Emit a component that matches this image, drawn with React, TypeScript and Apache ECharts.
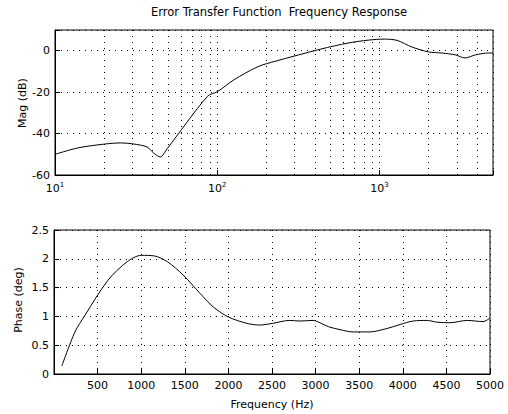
import React, { useEffect, useRef } from "react";
import * as echarts from "echarts";

const titleText = "Error Transfer Function  Frequency Response";
const magAxisName = "Mag (dB)";
const phaseAxisName = "Phase (deg)";
const magFreq = [10, 13.7, 18.2, 25.3, 30.4, 37, 40.5, 44.5, 49, 87, 100, 127, 178, 230, 435, 640, 850, 1070, 1280, 1580, 2010, 2420, 2930, 3360, 3900, 4700, 5000];
const magDb = [-50, -47, -45.5, -44.5, -45, -46.5, -49.4, -51.3, -47.4, -22, -19.8, -14, -7.7, -5, 0.8, 3.7, 5.1, 5.6, 5, 1.8, -0.6, -1.1, -2, -3.5, -2, -1.1, -1.1];
const phaseFreq = [90, 240, 355, 620, 840, 1000, 1150, 1300, 1480, 1675, 1830, 2000, 2210, 2360, 2510, 2700, 2820, 2970, 3050, 3150, 3280, 3430, 3620, 3820, 3970, 4120, 4280, 4390, 4540, 4740, 4920, 5000];
const phaseDeg = [0.14, 0.73, 1.02, 1.63, 1.95, 2.06, 2.05, 1.95, 1.72, 1.4, 1.16, 0.99, 0.88, 0.85, 0.88, 0.93, 0.92, 0.93, 0.89, 0.82, 0.77, 0.73, 0.73, 0.79, 0.86, 0.92, 0.93, 0.9, 0.89, 0.93, 0.91, 0.97];
const minorGridX = [20, 30, 40, 50, 60, 70, 80, 90, 200, 300, 400, 500, 600, 700, 800, 900, 2000, 3000, 4000];

const FONT = "DejaVu Sans";
const gridLine = { color: "#000", width: 1, type: [1, 5] as any };

export default function App() {
  const ref = useRef<HTMLDivElement>(null);
  useEffect(() => {
    if (!ref.current) return;
    const chart = echarts.init(ref.current, undefined, { renderer: "svg" });
    const tickLabel = { color: "#000", fontFamily: FONT, fontSize: 11 };
    const axisLine = { show: true, onZero: false, lineStyle: { color: "#000" } };
    const axisTick = { show: true, inside: true, length: 5, lineStyle: { color: "#000" } };
    chart.setOption({
      animation: false,
      backgroundColor: "#fff",
      textStyle: { fontFamily: FONT },
      title: {
        text: titleText,
        left: 274,
        top: 1,
        textAlign: "center",
        textStyle: { fontFamily: FONT, fontSize: 11.5, fontWeight: "normal", color: "#000" },
      },
      graphic: [
        {
          type: "text",
          x: 22,
          y: 103,
          rotation: Math.PI / 2,
          style: { text: magAxisName, fontFamily: FONT, fontSize: 11, fill: "#000", align: "center", verticalAlign: "middle" },
        },
        {
          type: "text",
          x: 18,
          y: 300,
          rotation: Math.PI / 2,
          style: { text: phaseAxisName, fontFamily: FONT, fontSize: 11, fill: "#000", align: "center", verticalAlign: "middle" },
        },
      ],
      grid: [
        { left: 55, right: 15, top: 30, height: 145, show: true, borderColor: "#000", borderWidth: 1, containLabel: false },
        { left: 54, right: 18, top: 230, height: 144, show: true, borderColor: "#000", borderWidth: 1, containLabel: false },
      ],
      xAxis: [
        {
          type: "log",
          gridIndex: 0,
          logBase: 10,
          min: 10,
          max: 5000,
          axisLine,
          axisTick,
          splitLine: { show: true, lineStyle: gridLine },
          axisLabel: {
            ...tickLabel,
            margin: 6,
            formatter: (v: number) => {
              const l = Math.log10(v);
              if (Math.abs(l - Math.round(l)) > 1e-6) return "";
              return "{b|10}{s|" + Math.round(l) + "}";
            },
            rich: {
              b: { fontFamily: FONT, fontSize: 11, color: "#000" },
              s: { fontFamily: FONT, fontSize: 7, color: "#000", padding: [0, 0, 7, 0] },
            },
          },
        },
        {
          type: "value",
          gridIndex: 1,
          min: 0,
          max: 5000,
          interval: 500,
          name: "Frequency (Hz)",
          nameLocation: "middle",
          nameGap: 25,
          nameTextStyle: { ...tickLabel },
          axisLine,
          axisTick,
          splitLine: { show: true, lineStyle: gridLine },
          axisLabel: { ...tickLabel, margin: 6, formatter: (v: number) => (v === 0 ? "" : String(v)) },
        },
      ],
      yAxis: [
        {
          type: "value",
          gridIndex: 0,
          min: -60,
          max: 10,
          interval: 20,
          axisLine,
          axisTick,
          splitLine: { show: true, lineStyle: gridLine },
          axisLabel: { ...tickLabel, margin: 5, formatter: (v: number) => (v > 0 ? "" : String(v)) },
        },
        {
          type: "value",
          gridIndex: 1,
          min: 0,
          max: 2.5,
          interval: 0.5,
          axisLine,
          axisTick,
          splitLine: { show: true, lineStyle: gridLine },
          axisLabel: { ...tickLabel, margin: 5 },
        },
      ],
      series: [
        {
          type: "line",
          xAxisIndex: 0,
          yAxisIndex: 0,
          data: magFreq.map((f, i) => [f, magDb[i]]),
          smooth: 0.3,
          showSymbol: false,
          lineStyle: { color: "#000", width: 1 },
          markLine: {
            silent: true,
            symbol: "none",
            label: { show: false },
            lineStyle: gridLine,
            data: minorGridX.map((v) => ({ xAxis: v })),
          },
        },
        {
          type: "line",
          xAxisIndex: 1,
          yAxisIndex: 1,
          data: phaseFreq.map((f, i) => [f, phaseDeg[i]]),
          smooth: 0.3,
          showSymbol: false,
          lineStyle: { color: "#000", width: 1 },
        },
      ],
    });
    return () => chart.dispose();
  }, []);
  return <div ref={ref} style={{ position: "fixed", left: 0, top: 0, width: 508, height: 414 }} />;
}
